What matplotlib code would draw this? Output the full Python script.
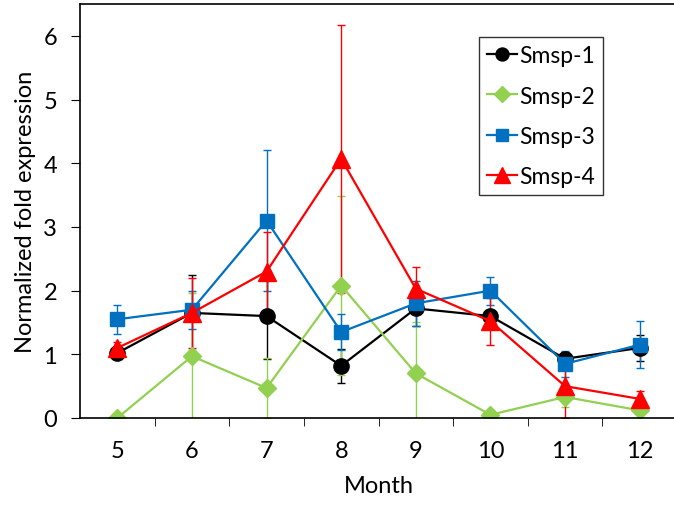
import numpy as np
import matplotlib.pyplot as plt
from matplotlib.lines import Line2D

plt.rcParams['font.family'] = ['Lato', 'DejaVu Sans']

months = [5, 6, 7, 8, 9, 10, 11, 12]

smsp1 = [1.02, 1.65, 1.60, 0.82, 1.72, 1.60, 0.93, 1.10]
smsp1_err = [0.05, 0.60, 0.67, 0.27, 0.27, 0.10, 0.10, 0.21]

smsp2 = [0.0, 0.97, 0.47, 2.08, 0.70, 0.05, 0.33, 0.12]
smsp2_err = [0.0, 1.00, 0.47, 1.40, 0.80, 0.05, 0.15, 0.05]

smsp3 = [1.55, 1.70, 3.10, 1.35, 1.80, 2.00, 0.85, 1.15]
smsp3_err = [0.23, 0.30, 1.10, 0.28, 0.35, 0.22, 0.20, 0.37]

smsp4 = [1.10, 1.65, 2.30, 4.07, 2.03, 1.52, 0.50, 0.30]
smsp4_err = [0.10, 0.55, 0.62, 2.10, 0.34, 0.37, 0.50, 0.13]

series = [
    ('Smsp-1', smsp1, smsp1_err, 'black', 'o', 11),
    ('Smsp-2', smsp2, smsp2_err, '#92D050', 'D', 9.2),
    ('Smsp-3', smsp3, smsp3_err, '#0070C0', 's', 9.6),
    ('Smsp-4', smsp4, smsp4_err, '#FF0000', '^', 13),
]

fig = plt.figure(figsize=(6.74, 5.06), dpi=100)
ax = fig.add_axes([80/674, 87/506, 597/674, 414/506])

handles = []
for name, vals, err, col, mk, ms in series:
    ax.errorbar(months, vals, yerr=err, color=col, marker=mk, markersize=ms,
                linewidth=1.6, elinewidth=1.0, capsize=3, capthick=1.0)
    handles.append(Line2D([], [], color=col, marker=mk, markersize=ms * 0.85,
                          linewidth=1.6, label=name))

ax.set_xlim(4.5, 12.5)
ax.set_ylim(0, 6.5)
ax.set_xticks(months)
ax.set_xticks(np.arange(5.5, 12, 1), minor=True)
ax.tick_params(axis='x', which='major', length=0, labelsize=17, pad=16)
ax.tick_params(axis='x', which='minor', length=6, direction='out')
ax.set_yticks(range(0, 7))
ax.tick_params(axis='y', length=6.5, direction='out', labelsize=17, pad=10)
ax.spines['right'].set_visible(False)
for sp in ax.spines.values():
    sp.set_linewidth(1.2)

ax.set_xlabel('Month', fontsize=17, labelpad=10)
ax.set_ylabel('Normalized fold expression', fontsize=17, labelpad=5)

leg = ax.legend(handles=handles, loc='upper left',
                bbox_to_anchor=(399/597, 1 - 33/414),
                fontsize=16.5, frameon=True, fancybox=False, edgecolor='black',
                handlelength=1.3, handletextpad=0.1, labelspacing=0.85,
                borderpad=0.35, borderaxespad=0)
leg.get_frame().set_linewidth(1.0)

fig.savefig('out.png', dpi=100)
